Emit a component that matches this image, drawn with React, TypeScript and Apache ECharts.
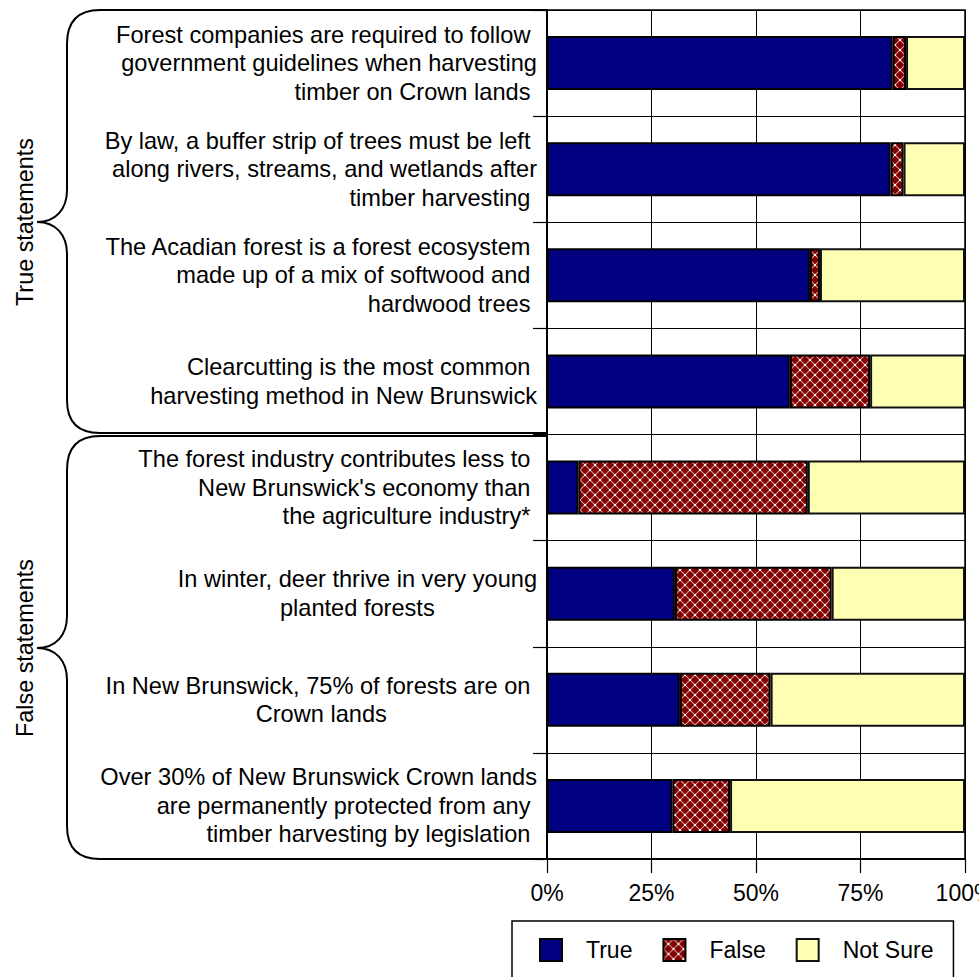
import React, { useEffect, useRef } from "react";
import * as echarts from "echarts";

const FONT = "'Liberation Sans', Arial, Helvetica, sans-serif";
const NB = "\u00a0";

const categories: string[] = [
  "Forest companies are required to follow government guidelines when harvesting timber on Crown lands",
  "By law, a buffer strip of trees must be left along rivers, streams, and wetlands after timber harvesting",
  "The Acadian forest is a forest ecosystem made up of a mix of softwood and hardwood trees",
  "Clearcutting is the most common harvesting method in New Brunswick",
  "The forest industry contributes less to New Brunswick's economy than the agriculture industry*",
  "In winter, deer thrive in very young planted forests",
  "In New Brunswick, 75% of forests are on Crown lands",
  "Over 30% of New Brunswick Crown lands are permanently protected from any timber harvesting by legislation",
];

const labelLines: string[][] = [
  ["Forest companies are required to follow" + NB, "government guidelines when harvesting", "timber on Crown lands" + NB],
  ["By law, a buffer strip of trees must be left" + NB, "along rivers, streams, and wetlands after", "timber harvesting" + NB],
  ["The Acadian forest is a forest ecosystem" + NB, "made up of a mix of softwood and" + NB, "hardwood trees" + NB],
  ["Clearcutting is the most common" + NB, "harvesting method in New Brunswick"],
  ["The forest industry contributes less to" + NB, "New Brunswick's economy than" + NB, "the agriculture industry*" + NB],
  ["In winter, deer thrive in very young", "planted forests"],
  ["In New Brunswick, 75% of forests are on" + NB, "Crown lands"],
  ["Over 30% of New Brunswick Crown lands", "are permanently protected from any" + NB, "timber harvesting by legislation" + NB],
];
const centeredLabel: boolean[] = [false, false, false, false, false, true, true, false];

const trueVals: number[] = [82.7, 82.2, 62.9, 58.1, 7.5, 30.6, 31.8, 30.0];
const falseVals: number[] = [3.2, 3.1, 2.4, 19.2, 54.9, 37.5, 21.7, 13.8];
const notSureVals: number[] = [14.1, 14.7, 34.7, 22.7, 37.6, 31.9, 46.5, 56.2];

const xTicks: number[] = [0, 25, 50, 75, 100];
const groupTitles: string[] = ["True statements", "False statements"];

const BRACE_D =
  "M 547 10 L 100 10 Q 67 10 67 44 L 67 190 C 67 209 56 222 37 222 C 56 222 67 235 67 254 L 67 400 Q 67 433 100 433 L 546 433";

let braceRegistered = false;

export default function App() {
  const ref = useRef<HTMLDivElement>(null);
  useEffect(() => {
    if (!ref.current) return;
    if (!braceRegistered) {
      echarts.graphic.registerShape("brace", echarts.graphic.extendPath(BRACE_D, {}) as any);
      braceRegistered = true;
    }
    const P = 10;
    const cv = document.createElement("canvas");
    cv.width = P;
    cv.height = P;
    const ctx = cv.getContext("2d")!;
    ctx.fillStyle = "#800000";
    ctx.fillRect(0, 0, P, P);
    ctx.strokeStyle = "rgba(255,220,220,0.7)";
    ctx.lineWidth = 1.1;
    ctx.beginPath();
    ctx.moveTo(0, 0);
    ctx.lineTo(P, P);
    ctx.moveTo(P, 0);
    ctx.lineTo(0, P);
    ctx.stroke();
    ctx.fillStyle = "rgba(255,255,255,0.95)";
    ctx.fillRect(P / 2 - 1, P / 2 - 1, 2, 2);
    ctx.fillRect(0, 0, 1, 1);
    ctx.fillRect(P - 1, 0, 1, 1);
    ctx.fillRect(0, P - 1, 1, 1);
    ctx.fillRect(P - 1, P - 1, 1, 1);
    const pattern: any = { image: cv, repeat: "repeat", imageWidth: P, imageHeight: P };

    const chart = echarts.init(ref.current, undefined, { renderer: "svg" });
    const barBase = {
      type: "bar",
      stack: "total",
      barWidth: "51%",
      silent: true,
    };
    chart.setOption({
      animation: false,
      backgroundColor: "#fff",
      textStyle: { fontFamily: FONT },
      grid: {
        left: 547,
        right: 14,
        top: 10,
        bottom: 118,
        show: true,
        borderColor: "#000",
        borderWidth: 1.5,
        outerBoundsMode: "none",
        containLabel: false,
      },
      xAxis: {
        type: "value",
        min: 0,
        max: 100,
        interval: 25,
        axisLine: { show: true, lineStyle: { color: "#000", width: 2 } },
        axisTick: { show: true, length: 14, lineStyle: { color: "#000", width: 1.2 } },
        axisLabel: {
          margin: 22,
          fontSize: 23,
          fontFamily: FONT,
          color: "#000",
          formatter: (v: number) => (xTicks.indexOf(v) >= 0 ? v + "%" : ""),
        },
        splitLine: { show: true, lineStyle: { color: "#000", width: 1 } },
      },
      yAxis: {
        type: "category",
        data: categories,
        inverse: true,
        axisLine: { show: true, lineStyle: { color: "#000", width: 2 } },
        axisTick: { show: true, length: 14, lineStyle: { color: "#000", width: 1.2 } },
        splitLine: { show: true, lineStyle: { color: "#000", width: 1 } },
        axisLabel: {
          interval: 0,
          margin: 10,
          fontSize: 23.6,
          lineHeight: 28.5,
          fontFamily: FONT,
          color: "#000",
          align: "right",
          formatter: (_v: string, i: number) => {
            const lines = labelLines[i];
            if (centeredLabel[i]) return lines.map((l) => "{c|" + l + "}").join("\n");
            return lines.join("\n");
          },
          rich: {
            c: { align: "center", fontSize: 23.6, lineHeight: 28.5, fontFamily: FONT, color: "#000" },
          },
        },
      },
      legend: {
        left: 512,
        top: 921,
        orient: "horizontal",
        itemWidth: 22,
        itemHeight: 22,
        itemGap: 30,
        padding: [17, 20, 17, 27],
        borderColor: "#000",
        borderWidth: 1.5,
        backgroundColor: "#fff",
        icon: "rect",
        textStyle: { fontSize: 23, fontFamily: FONT, color: "#000", padding: [0, 0, 0, 19] },
        data: ["True", "False", "Not Sure"],
      },
      series: [
        {
          ...barBase,
          name: "True",
          data: trueVals,
          itemStyle: { color: "#000080", borderColor: "#000", borderWidth: 2 },
        },
        {
          ...barBase,
          name: "False",
          data: falseVals,
          itemStyle: { color: pattern, borderColor: "#000", borderWidth: 2 },
        },
        {
          ...barBase,
          name: "Not Sure",
          data: notSureVals,
          itemStyle: { color: "#FFFFB4", borderColor: "#111", borderWidth: 2 },
        },
      ],
      graphic: [
        { type: "brace", x: 0, y: 0, style: { stroke: "#000", lineWidth: 2, fill: "none" } },
        { type: "brace", x: 0, y: 426, style: { stroke: "#000", lineWidth: 2, fill: "none" } },
        {
          type: "text",
          x: 25,
          y: 222,
          rotation: Math.PI / 2,
          style: { text: groupTitles[0], fontSize: 23.4, fontFamily: FONT, fill: "#000", align: "center", verticalAlign: "middle" },
        },
        {
          type: "text",
          x: 25,
          y: 648,
          rotation: Math.PI / 2,
          style: { text: groupTitles[1], fontSize: 23.4, fontFamily: FONT, fill: "#000", align: "center", verticalAlign: "middle" },
        },
      ],
    });
    return () => chart.dispose();
  }, []);
  return (
    <div
      ref={ref}
      style={{ position: "absolute", left: 0, top: 0, width: 979, height: 977, overflow: "hidden", background: "#fff" }}
    />
  );
}
